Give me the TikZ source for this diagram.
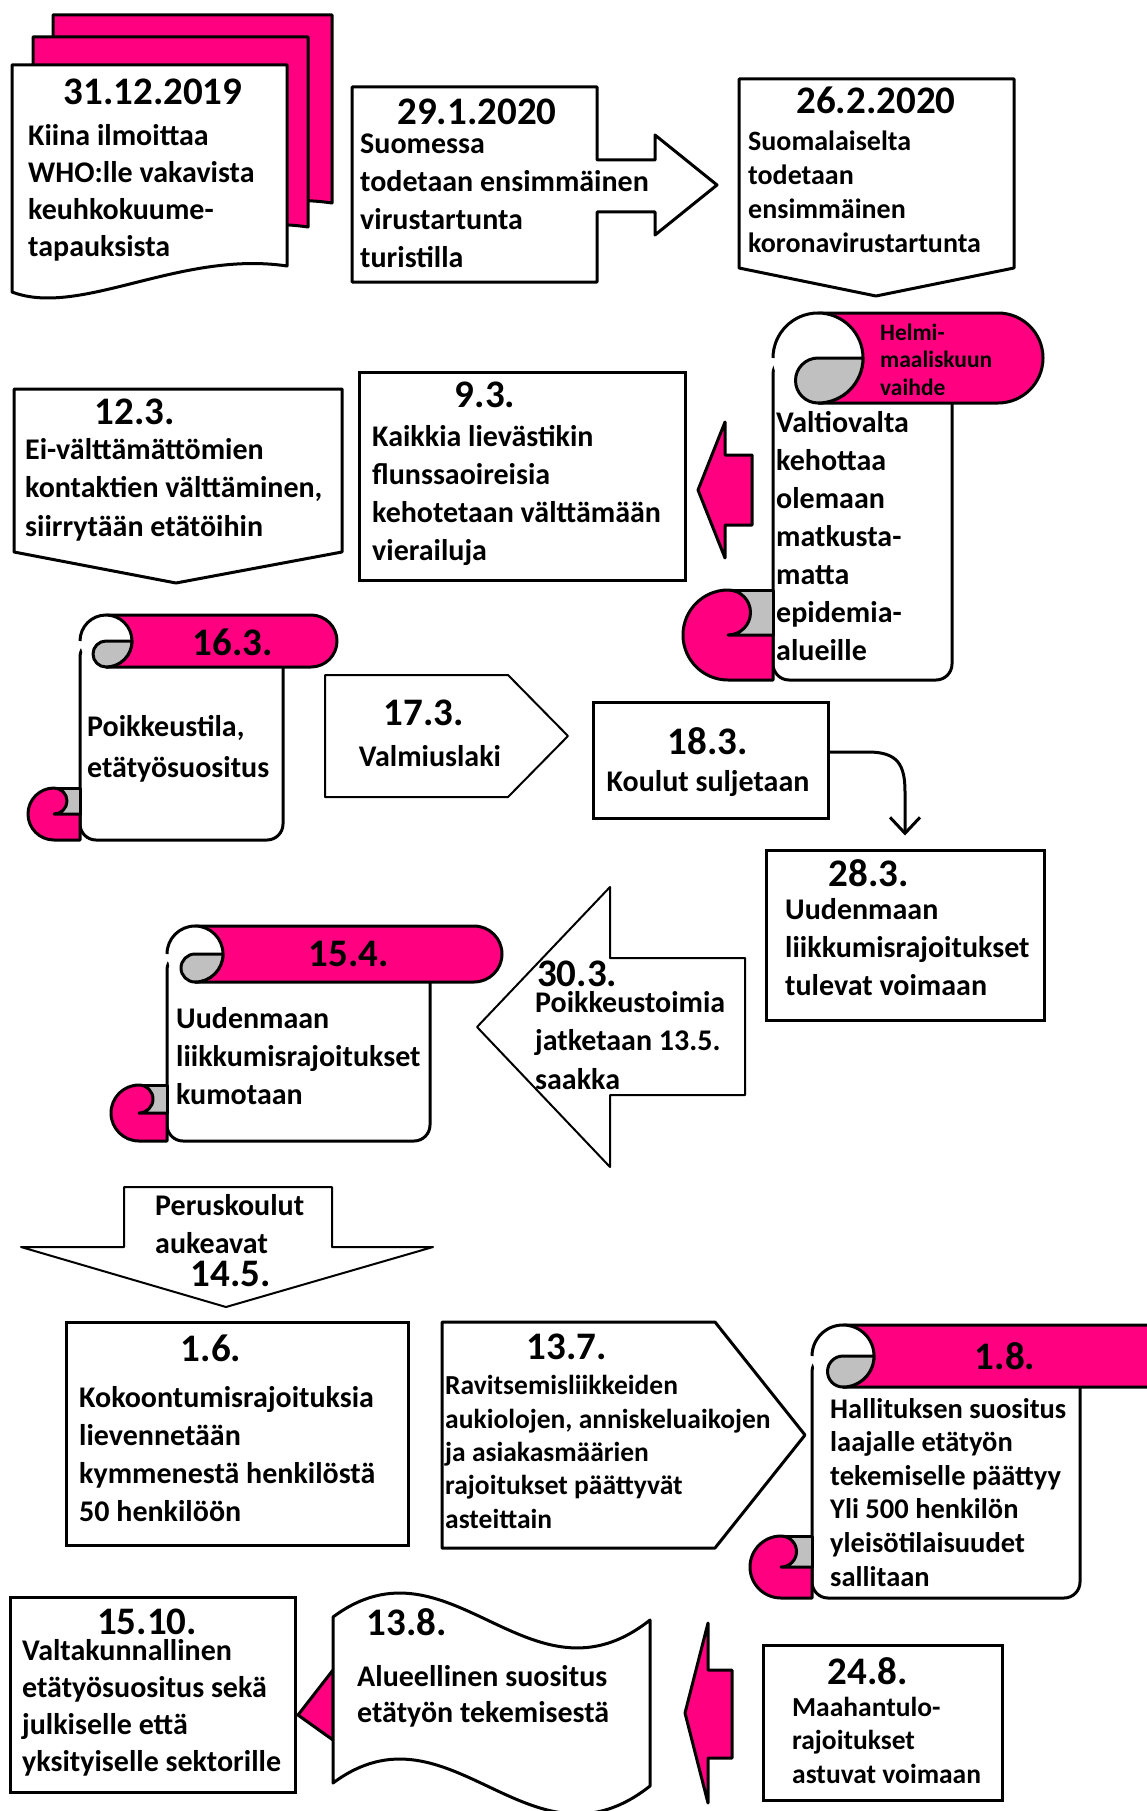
\documentclass[tikz,border=0pt]{standalone}
\usepackage{fontspec}
\setmainfont{Carlito}
\usetikzlibrary{arrows.meta}
\definecolor{pinkc}{RGB}{255,0,128}
\definecolor{grayc}{RGB}{192,192,192}
% scroll: left, right, top, roll radius, band end, bottom
\newcommand{\scrollpic}[6]{%
  \draw[outl,fill=white,rounded corners=16pt] (#1,{#3+#4}) -- (#1,#6) -- (#2,#6) -- (#2,{#3+#4}) -- cycle;
  \draw[outl,fill=pinkc] ({#1+#4},#3) -- ({#5-#4},#3) arc[start angle=-90,end angle=90,radius=#4] -- ({#1+#4},{#3+2*#4}) -- cycle;
  \fill[white] ({#1+#4},{#3+#4}) circle[radius=#4];
  \draw[outl] (#1,{#3+#4}) arc[start angle=180,end angle=450,radius=#4];
  \draw[outl,fill=grayc] ({#1+#4},{#3+#4}) -- ({#1+2*#4},{#3+#4}) arc[start angle=0,end angle=90,radius=#4]
    arc[start angle=90,end angle=270,radius=#4/2] -- cycle;
  \draw[outl,fill=grayc] ({#1-#4},{#6-2*#4}) rectangle (#1,{#6-#4});
  \draw[outl,fill=pinkc] ({#1-#4},{#6-2*#4}) arc[start angle=270,end angle=90,radius=#4] -- (#1,#6) -- (#1,{#6-#4})
    -- ({#1-#4},{#6-#4}) arc[start angle=90,end angle=-90,radius=#4/2] -- cycle;
}
\begin{document}
\begin{tikzpicture}[x=1pt,y=-1pt,
  outl/.style={line width=3pt,line join=round},
  outlthin/.style={line width=2pt,line join=round},
  rbox/.style={draw,fill=white,line width=3pt,inner sep=0pt},
  hd/.style={font=\fontsize{39}{40}\selectfont\bfseries,anchor=base,inner sep=0pt},
  txt/.style={font=\fontsize{30}{38}\selectfont\bfseries,align=left,anchor=base west,inner sep=0pt},
  conn/.style={line width=3pt,-{Straight Barb[length=16pt,width=30pt]}}]
\useasboundingbox (0,0) rectangle (1147,1811);
\fill[white] (0,0) rectangle (1147,1811);

% 31.12.2019 (text nodes sit on their last line)
\draw[outl,fill=pinkc] (53,15) -- (332,15) -- (332,203) .. controls (225,187) and (125,255) .. (53,229) -- cycle;
\draw[outl,fill=pinkc] (33,37) -- (308,37) -- (308,227) .. controls (201,211) and (101,279) .. (33,253) -- cycle;
\draw[outl,fill=white] (12,65) -- (287,65) -- (287,266) .. controls (180,250) and (80,318) .. (12,292) -- cycle;
\node[hd] (d3112) at (153,105) {31.12.2019};
\node[txt,font=\fontsize{30}{37}\selectfont\bfseries] (t3112) at (28,257) {Kiina ilmoittaa\\WHO:lle vakavista\\keuhkokuume-\\tapauksista};

% 29.1.2020
\draw[outl,fill=white] (352,87) -- (597,87) -- (597,160) -- (655,160) -- (655,135) -- (717,185) -- (655,235)
  -- (655,212) -- (597,212) -- (597,282) -- (352,282) -- cycle;
\node[hd] (d2901) at (477,125) {29.1.2020};
\node[txt] (t2901) at (360,268) {Suomessa\\todetaan ensimmäinen\\virustartunta\\turistilla};

% 26.2.2020
\draw[outl,fill=white] (739,79) -- (1014,79) -- (1014,268) -- (876,296) -- (739,268) -- cycle;
\node[hd] (d2602) at (876,114) {26.2.2020};
\node[txt,font=\fontsize{28}{33.7}\selectfont\bfseries] (t2602) at (748,252) {Suomalaiselta\\todetaan\\ensimmäinen\\koronavirustartunta};

% helmi-maaliskuu
\scrollpic{773}{952}{313}{45}{1043}{680}
\node[txt,font=\fontsize{23.5}{27.5}\selectfont\bfseries] (dhelmi) at (880,395) {Helmi-\\maaliskuun\\vaihde};
\node[txt] (thelmi) at (776,660) {Valtiovalta\\kehottaa\\olemaan\\matkusta-\\matta\\epidemia-\\alueille};

\draw[outl,fill=pinkc] (752,455) -- (725,455) -- (725,422) -- (698,490) -- (725,558) -- (725,525) -- (752,525) -- cycle;

% 9.3.
\node[rbox,minimum width=326pt,minimum height=208pt] (b93) at (522,476) {};
\node[hd] (d93) at (485,407) {9.3.};
\node[txt] (t93) at (372,560) {Kaikkia lievästikin\\flunssaoireisia\\kehotetaan välttämään\\vierailuja};

% 12.3.
\draw[outl,fill=white] (14,389) -- (342,389) -- (342,552) -- (176,583) -- (14,552) -- cycle;
\node[hd] (d123) at (135,424) {12.3.};
\node[txt,font=\fontsize{30}{38.5}\selectfont\bfseries] (t123) at (25,536) {Ei-välttämättömien\\kontaktien välttäminen,\\siirrytään etätöihin};

% 16.3.
\scrollpic{80}{283}{615}{26}{337}{840}
\node[hd] (d163) at (233,655) {16.3.};
\node[txt,font=\fontsize{30}{41}\selectfont\bfseries] (t163) at (87,777) {Poikkeustila,\\etätyösuositus};

% 17.3.
\draw[outlthin,fill=white] (325,675) -- (508,675) -- (568,736) -- (508,797) -- (325,797) -- cycle;
\node[hd] (d173) at (424,725) {17.3.};
\node[txt,anchor=base] (t173) at (430,766) {Valmiuslaki};

% 18.3.
\node[rbox,minimum width=235pt,minimum height=116pt] (b183) at (710.5,760) {};
\node[hd] (d183) at (708,754) {18.3.};
\node[txt,anchor=base] (t183) at (708,791) {Koulut suljetaan};

% 28.3.
\node[rbox,minimum width=278pt,minimum height=170pt] (b283) at (905,935) {};
\node[hd] (d283) at (869,886) {28.3.};
\node[txt] (t283) at (785,995) {Uudenmaan\\liikkumisrajoitukset\\tulevat voimaan};

\draw[conn] ([yshift=8pt]b183.east) -- (868,752) .. controls (898,752) and (905,765) .. (905,792) -- ([yshift=13pt]b283.north);

% 30.3.
\draw[outlthin,fill=white] (745,958) -- (610,958) -- (610,887) -- (477,1027) -- (610,1167) -- (610,1095) -- (745,1095) -- cycle;
\node[hd,anchor=base west] (d303) at (537,986) {30.3.};
\node[txt,font=\fontsize{30}{38.5}\selectfont\bfseries] (t303) at (535,1089) {Poikkeustoimia\\jatketaan 13.5.\\saakka};

% 15.4.
\scrollpic{167}{430}{926}{28}{502}{1141}
\node[hd] (d154) at (349,966) {15.4.};
\node[txt] (t154) at (176,1104) {Uudenmaan\\liikkumisrajoitukset\\kumotaan};

% 14.5.
\draw[outlthin,fill=white] (124,1187) -- (332,1187) -- (332,1247) -- (433,1247) -- (226,1307) -- (21,1247) -- (124,1247) -- cycle;
\node[txt] (t145) at (155,1253) {Peruskoulut\\aukeavat};
\node[hd] (d145) at (231,1286) {14.5.};

% 1.6.
\node[rbox,minimum width=342pt,minimum height=223pt] (b16) at (237,1433.5) {};
\node[hd] (d16) at (211,1361) {1.6.};
\node[txt] (t16) at (79,1521) {Kokoontumisrajoituksia\\lievennetään\\kymmenestä henkilöstä\\50 henkilöön};

% 13.7.
\draw[outl,fill=white] (442,1322) -- (715,1322) -- (805,1435) -- (715,1548) -- (442,1548) -- cycle;
\node[hd] (d137) at (567,1359) {13.7.};
\node[txt,font=\fontsize{27.5}{33.3}\selectfont\bfseries] (t137) at (445,1528) {Ravitsemisliikkeiden\\aukiolojen, anniskeluaikojen\\ja asiakasmäärien\\rajoitukset päättyvät\\asteittain};

% 1.8.
\scrollpic{812}{1080}{1325}{31}{1180}{1598}
\node[hd] (d18) at (1005,1369) {1.8.};
\node[txt,font=\fontsize{28.5}{33.6}\selectfont\bfseries] (t18) at (830,1586) {Hallituksen suositus\\laajalle etätyön\\tekemiselle päättyy\\Yli 500 henkilön\\yleisötilaisuudet\\sallitaan};

% 15.10.
\node[rbox,minimum width=285pt,minimum height=195pt] (b1510) at (152.5,1694.5) {};
\node[hd] (d1510) at (147,1634) {15.10.};
\node[txt,font=\fontsize{30}{36.7}\selectfont\bfseries] (t1510) at (22,1771) {Valtakunnallinen\\etätyösuositus sekä\\julkiselle että\\yksityiselle sektorille};

% 13.8.
\draw[outl,fill=pinkc] (333,1670) -- (298,1715) -- (333,1740) -- cycle;
\draw[outl,fill=white] (333,1617) .. controls (450,1530) and (530,1715) .. (650,1620) -- (650,1786)
  .. controls (530,1881) and (450,1696) .. (333,1783) -- cycle;
\node[hd] (d138) at (407,1635) {13.8.};
\node[txt,font=\fontsize{30}{36}\selectfont\bfseries] (t138) at (357,1722) {Alueellinen suositus\\etätyön tekemisestä};

% 24.8.
\draw[outl,fill=pinkc] (732,1670) -- (708,1670) -- (708,1623) -- (685,1713) -- (708,1803) -- (708,1758) -- (732,1758) -- cycle;
\node[rbox,minimum width=239pt,minimum height=155pt] (b248) at (882.5,1722.5) {};
\node[hd] (d248) at (868,1684) {24.8.};
\node[txt,font=\fontsize{27.5}{33.5}\selectfont\bfseries] (t248) at (792,1783) {Maahantulo-\\rajoitukset\\astuvat voimaan};
\end{tikzpicture}
\end{document}
